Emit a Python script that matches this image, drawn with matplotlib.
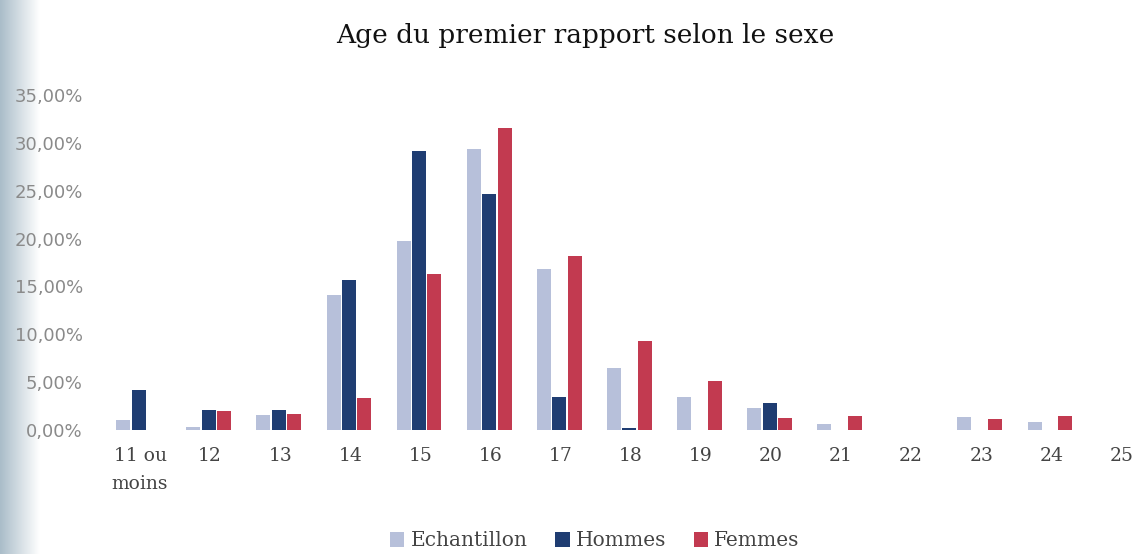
import matplotlib
matplotlib.use("Agg")
import matplotlib.pyplot as plt
import numpy as np
from matplotlib.ticker import FuncFormatter

ages = ["11 ou\nmoins", "12", "13", "14", "15", "16", "17", "18", "19", "20",
        "21", "22", "23", "24", "25"]
echantillon = [1.0, 0.3, 1.6, 14.1, 19.7, 29.4, 16.8, 6.5, 3.5, 2.3, 0.6, 0.0, 1.4, 0.8, 0.0]
hommes = [4.2, 2.1, 2.1, 15.7, 29.2, 24.7, 3.5, 0.2, 0.0, 2.8, 0.0, 0.0, 0.0, 0.0, 0.0]
femmes = [0.0, 2.0, 1.7, 3.3, 16.3, 31.6, 18.2, 9.3, 5.1, 1.3, 1.5, 0.0, 1.1, 1.5, 0.0]
yticks = [0, 5, 10, 15, 20, 25, 30, 35]

c_ech = "#b7c0da"
c_hom = "#1f3d72"
c_fem = "#c23a50"

W, H = 1138, 554
fig = plt.figure(figsize=(W / 100, H / 100), dpi=100)

# scan shadow on the left edge
bg = fig.add_axes([0, 0, 40 / W, 1])
grad = np.linspace(0, 1, 64)[None, :]
bg.imshow(grad, aspect="auto", cmap=matplotlib.colors.LinearSegmentedColormap.from_list(
    "edge", ["#aabdc9", "#ffffff"]), extent=[0, 1, 0, 1])
bg.axis("off")

left, right = 105, 1138
y0, y35 = 430, 95
ax = fig.add_axes([left / W, 1 - y0 / H, (right - left) / W, (y0 - y35) / H])
ax.patch.set_alpha(0)

x = np.arange(len(ages))
w = 0.2
ax.bar(x - 0.24, echantillon, w, color=c_ech, label="Echantillon")
ax.bar(x - 0.02, hommes, w, color=c_hom, label="Hommes")
ax.bar(x + 0.2, femmes, w, color=c_fem, label="Femmes")

ax.set_xlim(-0.5, -0.5 + (right - left) / 70.1)
ax.set_ylim(0, 35)
ax.set_yticks(yticks)
ax.yaxis.set_major_formatter(FuncFormatter(lambda v, p: f"{v:.2f}%".replace(".", ",")))
ax.set_xticks(x)
ax.set_xticklabels(ages, family="DejaVu Serif", fontsize=13.5, color="#444444",
                   linespacing=1.75)
for lab in ax.get_yticklabels():
    lab.set_fontsize(13)
    lab.set_color("#8a8a8a")
ax.tick_params(axis="both", length=0)
ax.tick_params(axis="x", pad=12)
ax.tick_params(axis="y", pad=16)
for s in ax.spines.values():
    s.set_visible(False)

fig.text(585 / W, 1 - 35 / H, "Age du premier rapport selon le sexe", ha="center",
         va="center", family="DejaVu Serif", fontsize=19, color="#111111")

leg = fig.legend(loc="center", bbox_to_anchor=(595 / W, 1 - 541 / H), ncol=3,
                 frameon=False, handlelength=0.7, handleheight=0.7, handletextpad=0.3,
                 columnspacing=1.4, prop={"family": "DejaVu Serif", "size": 14.5})
for t in leg.get_texts():
    t.set_color("#444444")

fig.savefig("out.png", dpi=100)
